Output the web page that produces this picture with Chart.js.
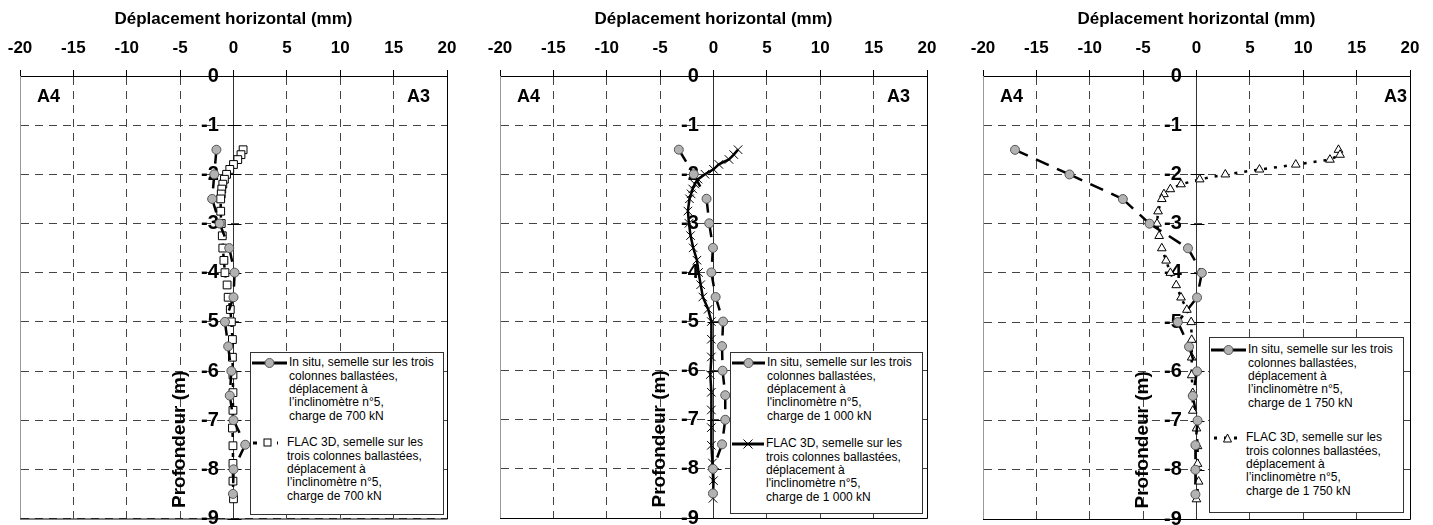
<!DOCTYPE html>
<html>
<head>
<meta charset="utf-8">
<script src="https://cdn.jsdelivr.net/npm/chart.js@4.4.1/dist/chart.umd.min.js"></script>
<style>
    body { margin: 0; background: #fff; width: 1433px; height: 525px; position: relative; overflow: hidden;
           font-family: "Liberation Sans", Arial, sans-serif; }
    .panneau { position: absolute; top: 0; width: 470px; height: 525px; }
    .legende { position: absolute; background: #fff; border: 1px solid #333; box-sizing: border-box;
               font-size: 12px; line-height: 13.3px; color: #000; }
    .legende svg { position: absolute; }
    .legende .texte { position: absolute; white-space: nowrap; }
</style>
</head>
<body>
<div class="panneau" style="left:0px"><canvas id="graphe700" width="470" height="525"></canvas></div>
<div class="panneau" style="left:480px"><canvas id="graphe1000" width="470" height="525"></canvas></div>
<div class="panneau" style="left:963px"><canvas id="graphe1750" width="470" height="525"></canvas></div>

<script>
// Graduations des axes
var graduationsX = [-20, -15, -10, -5, 0, 5, 10, 15, 20];
var graduationsY = [0, -1, -2, -3, -4, -5, -6, -7, -8, -9];

// Mesures in situ (profondeur en m, déplacement en mm)
var profondeurInSitu = [-1.5, -2, -2.5, -3, -3.5, -4, -4.5, -5, -5.5, -6, -6.5, -7, -7.5, -8, -8.5];
var inSitu700  = [-1.6, -1.8, -2.0, -1.3, -0.4, 0.1, 0.0, -0.8, -0.5, -0.2, -0.35, 0.0, 1.1, 0.0, -0.05];
var inSitu1000 = [-3.25, -1.85, -0.65, -0.4, -0.05, -0.2, 0.2, 0.9, 0.8, 0.85, 1.1, 1.1, 0.8, -0.05, -0.05];
var inSitu1750 = [-17.0, -11.9, -6.9, -4.4, -0.8, 0.5, 0.05, -1.75, -0.7, 0.05, -0.35, 0.1, -0.1, -0.1, -0.1];

// Modèle FLAC 3D
var profondeurFlac = [-1.5, -1.6, -1.7, -1.8, -1.9, -2.0, -2.1, -2.2, -2.3, -2.4, -2.5, -2.75, -3.0, -3.25,
                      -3.5, -3.75, -4.0, -4.25, -4.5, -4.75, -5.0, -5.36, -5.72, -6.08, -6.44, -6.8, -7.16,
                      -7.52, -7.88, -8.24, -8.6];
var flac700  = [0.9, 0.7, 0.4, 0.0, -0.35, -0.65, -0.85, -1.0, -1.1, -1.15, -1.2, -1.2, -1.15, -1.05,
                -1.0, -0.9, -0.8, -0.6, -0.5, -0.3, -0.2, -0.1, -0.1, -0.05, -0.05, -0.05, -0.1,
                -0.05, -0.05, -0.05, 0.0];
var flac1000 = [2.3, 1.9, 1.45, 0.5, 0.0, -0.8, -1.45, -1.75, -1.95, -2.1, -2.25, -2.4, -2.3, -2.15,
                -1.9, -1.55, -1.4, -1.2, -1.0, -0.5, -0.2, -0.2, -0.2, -0.3, -0.2, -0.2, -0.2,
                -0.2, -0.1, 0.0, -0.05];
var flac1750 = [13.3, 13.45, 12.5, 9.3, 5.9, 2.7, 0.3, -1.45, -2.45, -3.05, -3.25, -3.6, -3.7, -3.5,
                -3.25, -2.85, -2.45, -1.9, -1.45, -0.9, -0.5, -0.45, -0.45, -0.45, -0.35, -0.35, 0.0,
                0.1, 0.1, 0.2, 0.0];

// Textes des légendes
var legendeInSitu = {
    700:  ['In situ, semelle sur les trois', 'colonnes ballastées,', 'déplacement à', 'l’inclinomètre n°5,', 'charge de 700 kN'],
    1000: ['In situ, semelle sur les trois', 'colonnes ballastées,', 'déplacement à', 'l\'inclinomètre n°5,', 'charge de 1 000 kN'],
    1750: ['In situ, semelle sur les trois', 'colonnes ballastées,', 'déplacement à', 'l’inclinomètre n°5,', 'charge de 1 750 kN']
};
var legendeFlac = {
    700:  ['FLAC 3D, semelle sur les', 'trois colonnes ballastées,', 'déplacement à', 'l’inclinomètre n°5,', 'charge de 700 kN'],
    1000: ['FLAC 3D, semelle sur les', 'trois colonnes ballastées,', 'déplacement à', 'l\'inclinomètre n°5,', 'charge de 1 000 kN'],
    1750: ['FLAC 3D, semelle sur les', 'trois colonnes ballastées,', 'déplacement à', 'l’inclinomètre n°5,', 'charge de 1 750 kN']
};

function points(xs, ys) {
    return ys.map(function(y, i) { return { x: xs[i], y: y }; });
}

// Cadre, petites graduations sur l'axe x = 0 et repères A4 / A3
var cadre = {
    id: 'cadre',
    beforeDatasetsDraw: function(chart, args, opts) {
        var c = chart.ctx, a = chart.chartArea;
        var x0 = chart.scales.x.getPixelForValue(0);
        c.save();
        c.strokeStyle = '#000';
        c.lineWidth = 1;
        c.beginPath();
        c.moveTo(a.right + 0.5, a.top);
        c.lineTo(a.right + 0.5, a.bottom + 0.5);
        c.lineTo(a.left, a.bottom + 0.5);
        graduationsY.forEach(function(v) {
            var y = Math.round(chart.scales.y.getPixelForValue(v)) + 0.5;
            c.moveTo(x0 - 6, y);
            c.lineTo(x0 + 8, y);
        });
        c.stroke();
        c.fillStyle = '#000';
        c.font = 'bold 18px "Liberation Sans", Arial, sans-serif';
        c.textBaseline = 'middle';
        c.textAlign = 'left';
        c.fillText('A4', a.left + 17, a.top + 21);
        c.textAlign = 'right';
        c.fillText('A3', a.right - opts.decalageA3, a.top + 21);
        c.restore();
    }
};

function creerGraphique(id, inSitu, flac, styleFlac, decalageA3) {
    var tiretsGrille = function(ctx) {
        return ctx.tick && ctx.tick.value === 0 ? [] : [8, 6];
    };
    var config = {
        type: 'scatter',
        data: {
            datasets: [{
                label: 'In situ',
                data: points(inSitu, profondeurInSitu),
                showLine: true,
                borderColor: '#000',
                borderWidth: 2.5,
                borderDash: [14, 9],
                // chaque tronçon recommence son pointillé au point supérieur
                segment: { borderDashOffset: function(ctx) { return (ctx.p0DataIndex % 2) * 0.01; } },
                pointStyle: 'circle',
                pointRadius: 4.5,
                pointBackgroundColor: '#b2b2b2',
                pointBorderColor: '#555',
                pointBorderWidth: 1
            }, {
                label: 'FLAC 3D',
                data: points(flac, profondeurFlac),
                showLine: true,
                borderColor: '#000',
                borderWidth: 2.5,
                borderDash: styleFlac.tirets,
                pointStyle: styleFlac.marqueur,
                pointRadius: styleFlac.rayon,
                pointBackgroundColor: '#fff',
                pointBorderColor: '#000',
                pointBorderWidth: 1
            }]
        },
        options: {
            responsive: false,
            animation: false,
            layout: { padding: { left: 20, right: 23, top: 0, bottom: 6 } },
            plugins: {
                legend: { display: false },
                tooltip: { enabled: false },
                cadre: { decalageA3: decalageA3 }
            },
            scales: {
                x: {
                    type: 'linear',
                    position: 'top',
                    min: -20,
                    max: 20,
                    afterBuildTicks: function(scale) {
                        scale.ticks = graduationsX.map(function(v) { return { value: v }; });
                    },
                    afterFit: function(scale) {
                        scale.height = 76;
                        scale.paddingLeft = 0;
                        scale.paddingRight = 0;
                    },
                    title: {
                        display: true,
                        text: 'Déplacement horizontal (mm)',
                        color: '#000',
                        font: { family: '"Liberation Sans", Arial, sans-serif', size: 17, weight: 'bold' },
                        padding: { top: 9, bottom: 0 }
                    },
                    ticks: {
                        color: '#000',
                        padding: 11,
                        font: { family: '"Liberation Sans", Arial, sans-serif', size: 17, weight: 'bold' },
                        callback: function(v) { return String(v); }
                    },
                    grid: {
                        color: function(ctx) { return ctx.tick && ctx.tick.value === 0 ? '#333' : '#444'; },
                        lineWidth: 1,
                        tickLength: 6,
                        tickColor: '#000'
                    },
                    border: { display: true, color: '#000', width: 1, dash: tiretsGrille }
                },
                y: {
                    type: 'linear',
                    position: 'left',
                    min: -9,
                    max: 0,
                    afterBuildTicks: function(scale) {
                        scale.ticks = graduationsY.map(function(v) { return { value: v }; });
                    },
                    afterFit: function(scale) {
                        scale.width = 0;
                        scale.paddingTop = 0;
                        scale.paddingBottom = 0;
                    },
                    title: {
                        display: true,
                        text: '  Profondeur (m)',
                        align: 'start',
                        color: '#000',
                        font: { family: '"Liberation Sans", Arial, sans-serif', size: 19, weight: 'bold' },
                        padding: { top: 148, bottom: 0 }
                    },
                    ticks: {
                        color: '#000',
                        mirror: true,
                        crossAlign: 'far',
                        padding: 181,
                        font: { family: '"Liberation Sans", Arial, sans-serif', size: 20, weight: 'bold' },
                        callback: function(v) { return String(v); }
                    },
                    grid: { color: '#444', lineWidth: 1, drawTicks: false },
                    border: { display: true, color: '#999', width: 1, dash: [8, 6] }
                }
            }
        },
        plugins: [cadre]
    };
    var ctx = document.getElementById(id).getContext('2d');
    return new Chart(ctx, config);
}

creerGraphique('graphe700', inSitu700, flac700, { tirets: [4, 6], marqueur: 'rect', rayon: 5.5 }, 17);
creerGraphique('graphe1000', inSitu1000, flac1000, { tirets: [], marqueur: 'crossRot', rayon: 6 }, 17);
creerGraphique('graphe1750', inSitu1750, flac1750, { tirets: [3, 7], marqueur: 'triangle', rayon: 5 }, 3);

// Légendes (HTML, texte réel)
function echantillon(type, largeur) {
    var m = largeur / 2;
    var s = '<svg width="' + largeur + '" height="12" viewBox="0 0 ' + largeur + ' 12">';
    if (type === 'inSitu') {
        s += '<line x1="0" y1="6" x2="' + largeur + '" y2="6" stroke="#000" stroke-width="3"/>';
        s += '<circle cx="' + m + '" cy="6" r="4.5" fill="#b2b2b2" stroke="#555"/>';
    } else if (type === 'rect') {
        s += '<line x1="1" y1="6" x2="' + (largeur - 7) + '" y2="6" stroke="#000" stroke-width="3" stroke-dasharray="4 8"/>';
        s += '<rect x="' + (m - 4.5) + '" y="2" width="7" height="7" fill="#fff" stroke="#000"/>';
    } else if (type === 'crossRot') {
        s += '<line x1="0" y1="6" x2="' + largeur + '" y2="6" stroke="#000" stroke-width="3"/>';
        s += '<path d="M' + (m - 4.5) + ' 1.5L' + (m + 4.5) + ' 10.5M' + (m - 4.5) + ' 10.5L' + (m + 4.5) + ' 1.5" stroke="#000" stroke-width="1"/>';
    } else if (type === 'triangle') {
        s += '<line x1="3" y1="6" x2="' + (largeur - 4) + '" y2="6" stroke="#000" stroke-width="3" stroke-dasharray="3 7"/>';
        s += '<path d="M' + (m - 4) + ' 10L' + m + ' 2L' + (m + 4) + ' 10Z" fill="#fff" stroke="#000"/>';
    }
    return s + '</svg>';
}

function creerLegende(cadreLeg, entrees) {
    var div = document.createElement('div');
    div.className = 'legende';
    div.style.left = cadreLeg[0] + 'px';
    div.style.top = cadreLeg[1] + 'px';
    div.style.width = cadreLeg[2] + 'px';
    div.style.height = cadreLeg[3] + 'px';
    var html = '';
    entrees.forEach(function(e) {
        html += '<div style="position:absolute;left:1px;top:' + (e.centre - 7) + 'px">' + echantillon(e.type, e.texteX - 3) + '</div>';
        html += '<div class="texte" style="left:' + e.texteX + 'px;top:' + (e.centre - 7.65) + 'px">' + e.lignes.join('<br>') + '</div>';
    });
    div.innerHTML = html;
    document.body.appendChild(div);
}

creerLegende([250, 352, 194, 163], [
    { type: 'inSitu', texteX: 38, centre: 11, lignes: legendeInSitu[700] },
    { type: 'rect', texteX: 36, centre: 91, lignes: legendeFlac[700] }
]);
creerLegende([730, 352, 193, 162], [
    { type: 'inSitu', texteX: 36, centre: 11, lignes: legendeInSitu[1000] },
    { type: 'crossRot', texteX: 35, centre: 92, lignes: legendeFlac[1000] }
]);
creerLegende([1209, 337, 195, 176], [
    { type: 'inSitu', texteX: 38, centre: 13, lignes: legendeInSitu[1750] },
    { type: 'triangle', texteX: 36, centre: 101, lignes: legendeFlac[1750] }
]);
</script>
</body>
</html>
